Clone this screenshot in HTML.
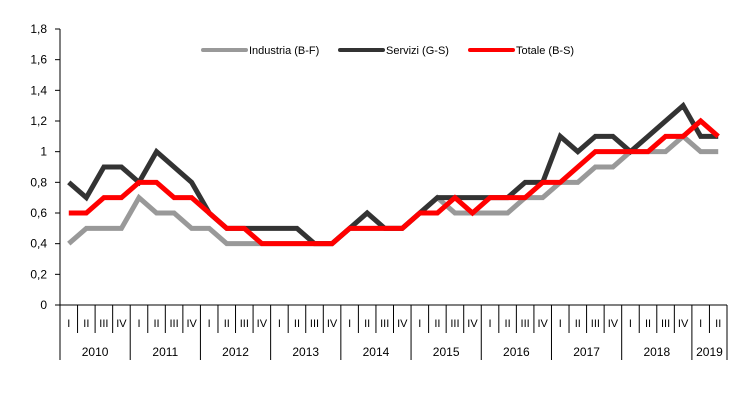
<!DOCTYPE html>
<html><head><meta charset="utf-8"><style>
body{margin:0;background:#fff;}
svg{display:block;font-family:"Liberation Sans",sans-serif;}
</style></head><body>
<svg id="chart" width="747" height="400"></svg>
<script>
const years=["2010","2011","2012","2013","2014","2015","2016","2017","2018","2019"];
const quarters=["I","II","III","IV"];
const yTicks=["0","0,2","0,4","0,6","0,8","1","1,2","1,4","1,6","1,8"];
const industria=[.4,.5,.5,.5,.7,.6,.6,.5,.5,.4,.4,.4,.4,.4,.4,.4,.5,.5,.5,.5,.6,.7,.6,.6,.6,.6,.7,.7,.8,.8,.9,.9,1,1,1,1.1,1,1];
const servizi=[.8,.7,.9,.9,.8,1,.9,.8,.6,.5,.5,.5,.5,.5,.4,.4,.5,.6,.5,.5,.6,.7,.7,.7,.7,.7,.8,.8,1.1,1,1.1,1.1,1,1.1,1.2,1.3,1.1,1.1];
const totale=[.6,.6,.7,.7,.8,.8,.7,.7,.6,.5,.5,.4,.4,.4,.4,.4,.5,.5,.5,.5,.6,.6,.7,.6,.7,.7,.7,.8,.8,.9,1,1,1,1,1.1,1.1,1.2,1.1,1.1].slice(0,38);
const NS="http://www.w3.org/2000/svg";
const svg=document.getElementById("chart");
const X0=60,X1=727,Y0=305,Y1=29,N=38,step=(X1-X0)/N;
const xPos=i=>X0+step*(i+0.5);
const yPos=v=>Y0-(v/1.8)*(Y0-Y1);
function mk(t,a){const e=document.createElementNS(NS,t);for(const k in a)e.setAttribute(k,a[k]);svg.appendChild(e);return e;}
// y axis
let e=mk("line",{x1:X0,y1:Y1,x2:X0,y2:Y0,stroke:"#000","stroke-width":1});


yTicks.forEach((t,i)=>{const v=i*0.2;const y=yPos(v);
 let l=mk("line",{x1:X0-5,y1:y,x2:X0,y2:y,stroke:"#000"});
 
 
 let tx=mk("text",{x:X0-13,y:y+4,"text-anchor":"end","font-size":12,fill:"#000"});tx.textContent=t;
 
 
});
// x axis
e=mk("line",{x1:X0,y1:Y0,x2:X1,y2:Y0,stroke:"#000"});


for(let i=0;i<=N;i++){const x=X0+step*i;const yr=(i%4===0)||i===N;
 let l=mk("line",{x1:x,y1:Y0,x2:x,y2:yr?360:333,stroke:"#000"});
 
 
 if(i<N){let t=mk("text",{x:xPos(i),y:327,"text-anchor":"middle","font-size":11,fill:"#000"});t.textContent=quarters[i%4];
 
 }
}
years.forEach((y,k)=>{const a=X0+step*4*k,b=Math.min(X1,a+step*4);
 let t=mk("text",{x:(a+b)/2,y:356,"text-anchor":"middle","font-size":12,fill:"#000"});t.textContent=y;
 
 });
function series(d,c,n){const p=mk("polyline",{points:d.map((v,i)=>xPos(i)+","+yPos(v)).join(" "),fill:"none",stroke:c,"stroke-width":5,"stroke-linejoin":"miter"});
 
 }
series(industria,"#999999","industria-line");
series(servizi,"#333333","servizi-line");
series(totale,"#ff0000","totale-line");
// legend
[["Industria (B-F)","#999999",203],["Servizi (G-S)","#333333",340],["Totale (B-S)","#ff0000",470]].forEach(([n,c,x])=>{
 let l=mk("line",{x1:x,y1:50,x2:x+43,y2:50,stroke:c,"stroke-width":4,"stroke-linecap":"round"});
 
 
 let t=mk("text",{x:x+46,y:54,"font-size":11,fill:"#000"});t.textContent=n;
 
 
});
</script>
</body></html>
